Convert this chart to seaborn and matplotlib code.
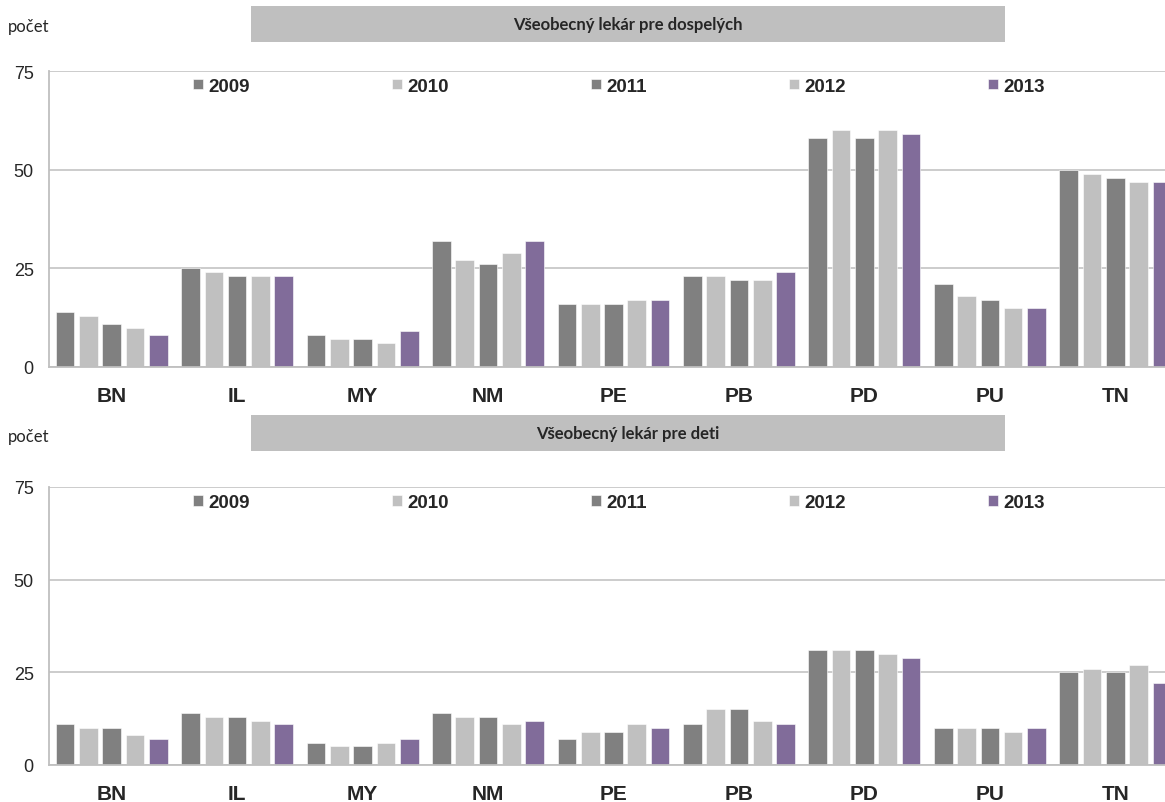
import matplotlib.pyplot as plt
import matplotlib.patches as mpatches
import pandas as pd
import seaborn as sns
import numpy as np

# Data
districts = ['BN', 'IL', 'MY', 'NM', 'PE', 'PB', 'PD', 'PU', 'TN']
years = ['2009', '2010', '2011', '2012', '2013']

adults = {
    '2009': [14, 25, 8, 32, 16, 23, 58, 21, 50],
    '2010': [13, 24, 7, 27, 16, 23, 60, 18, 49],
    '2011': [11, 23, 7, 26, 16, 22, 58, 17, 48],
    '2012': [10, 23, 6, 29, 17, 22, 60, 15, 47],
    '2013': [8, 23, 9, 32, 17, 24, 59, 15, 47],
}
children = {
    '2009': [11, 14, 6, 14, 7, 11, 31, 10, 25],
    '2010': [10, 13, 5, 13, 9, 15, 31, 10, 26],
    '2011': [10, 13, 5, 13, 9, 15, 31, 10, 25],
    '2012': [8, 12, 6, 11, 11, 12, 30, 9, 27],
    '2013': [7, 11, 7, 12, 10, 11, 29, 10, 22],
}

titles = ['Všeobecný lekár pre dospelých', 'Všeobecný lekár pre deti']
y_ticks = [0, 25, 50, 75]

palette = {'2009': '#808080', '2010': '#C0C0C0', '2011': '#808080',
           '2012': '#C0C0C0', '2013': '#8064A2'}


def to_long(d):
    rows = []
    for y in years:
        for dist, v in zip(districts, d[y]):
            rows.append({'okres': dist, 'rok': y, 'pocet': v})
    return pd.DataFrame(rows)


sns.set_style('white')
plt.rcParams['font.family'] = ['Liberation Sans', 'DejaVu Sans']

W, H = 1165, 803
fig = plt.figure(figsize=(W / 100, H / 100), dpi=100)

# axes positions in pixels: (left, top, right, bottom, box top, box bottom, label y)
panels = [
    (49, 72, 1178, 368, 7, 43, 27),
    (49, 488, 1178, 766, 416, 452, 437),
]

for data, title, (l, t, r, b, bt, bb, ly) in zip([adults, children], titles, panels):
    ax = fig.add_axes([l / W, (H - b) / H, (r - l) / W, (b - t) / H])
    df = to_long(data)
    sns.barplot(data=df, x='okres', y='pocet', hue='rok', palette=palette,
                order=districts, hue_order=years, width=0.93, gap=0.2,
                edgecolor='white', linewidth=0.4, ax=ax)

    ax.set_ylim(0, 75)
    ax.set_xlim(-0.5, len(districts) - 0.5)
    ax.set_yticks(y_ticks)
    ax.set_yticklabels([str(v) for v in y_ticks], fontsize=13)
    ax.set_xticks(range(len(districts)))
    ax.set_xticklabels(districts, fontsize=15, fontweight='bold')
    ax.set_xticks(np.arange(-0.5, len(districts), 1), minor=True)
    ax.tick_params(axis='x', which='major', length=0, pad=14)
    ax.tick_params(axis='x', which='minor', length=5, color='#BFBFBF', width=1.2)
    ax.tick_params(axis='y', length=5, color='#BFBFBF', width=1.2, pad=6)
    ax.set_xlabel('')
    ax.set_ylabel('')

    ax.yaxis.grid(True, color='#C8C8C8', linewidth=1.3)
    ax.set_axisbelow(True)
    for s in ['top', 'right']:
        ax.spines[s].set_visible(False)
    for s in ['left', 'bottom']:
        ax.spines[s].set_color('#BFBFBF')
        ax.spines[s].set_linewidth(1.3)

    handles, labels = ax.get_legend_handles_labels()
    ax.legend(handles, labels, ncol=5, loc='upper center',
              bbox_to_anchor=(0.505, 1.035), frameon=False,
              prop={'weight': 'bold', 'size': 13.5},
              handlelength=0.5, handleheight=0.5, handletextpad=0.3,
              columnspacing=7.6)

    # title box
    rect = mpatches.Rectangle((251 / W, (H - bb) / H), (1005 - 251) / W,
                              (bb - bt) / H, transform=fig.transFigure,
                              facecolor='#BFBFBF', edgecolor='none')
    fig.patches.append(rect)
    fig.text(628 / W, (H - (bt + bb) / 2) / H, title, ha='center', va='center',
             fontsize=12, fontweight='bold', family=['Lato', 'DejaVu Sans'])
    fig.text(8 / W, (H - ly) / H, 'počet', ha='left', va='center',
             fontsize=12, family=['Lato', 'DejaVu Sans'])

fig.savefig('out.png', dpi=100)
